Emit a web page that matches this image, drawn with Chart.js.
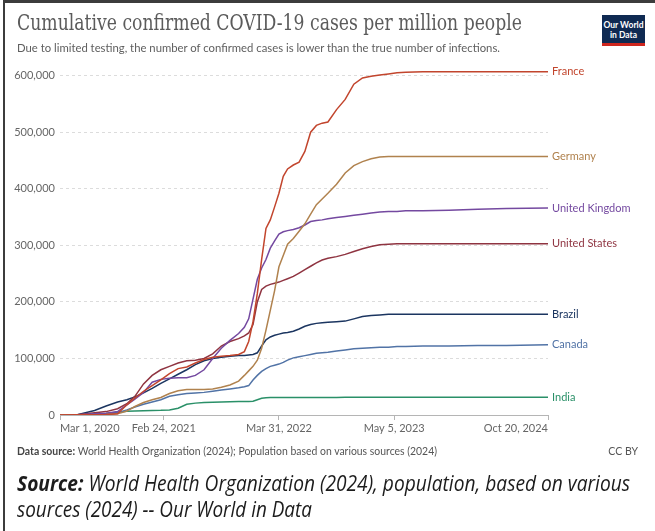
<!DOCTYPE html>
<html>
<head>
<meta charset="utf-8">
<title>Cumulative confirmed COVID-19 cases per million people</title>
<script src="https://cdn.jsdelivr.net/npm/chart.js@4.4.1/dist/chart.umd.min.js"></script>
<style>
  html, body { margin: 0; padding: 0; background: #fff; }
  body { width: 655px; height: 531px; position: relative; overflow: hidden; font-family: Lato, sans-serif; }
  #frame { position: absolute; left: 3px; top: 0; width: 660px; height: 540px; border-left: 2px solid #3c3c3c; border-top: 3px solid #3c3c3c; box-sizing: border-box; pointer-events: none; }
  #chart { position: absolute; left: 0; top: 0; }
  .fit { position: absolute; white-space: nowrap; transform-origin: 0 0; }
  #title { left: 17px; top: 9px; font-family: 'DejaVu Serif Condensed', 'DejaVu Serif', serif; font-size: 23px; color: #5b5b5b; }
  #subtitle { left: 17px; top: 40px; font-size: 12px; color: #5e5e5e; }
  #logo { position: absolute; left: 602px; top: 15px; width: 43px; background: #0f2a52; border-bottom: 3px solid #ce261e; color: #fff; font-size: 8.5px; font-weight: bold; line-height: 10px; text-align: center; padding-top: 5px; height: 23px; }
  #datasource { left: 17px; top: 445px; font-size: 10.5px; color: #555; }
  #datasource b { font-weight: bold; color: #444; }
  #ccby { position: absolute; right: 17px; top: 445px; font-size: 10.5px; color: #555; }
  .src { font-family: 'Open Sans', sans-serif; font-style: italic; font-size: 22px; color: #1c1c1c; }
  #src1 { left: 17px; top: 467px; }
  #src2 { left: 17px; top: 493px; }
</style>
</head>
<body>
<canvas id="chart" width="655" height="531"></canvas>
<div id="title" class="fit" data-w="505">Cumulative confirmed COVID-19 cases per million people</div>
<div id="subtitle" class="fit" data-w="483">Due to limited testing, the number of confirmed cases is lower than the true number of infections.</div>
<div id="logo">Our World<br>in Data</div>
<div id="datasource" class="fit" data-w="420"><b>Data source:</b> World Health Organization (2024); Population based on various sources (2024)</div>
<div id="ccby">CC BY</div>
<div id="src1" class="fit src" data-w="613"><b>Source:</b> World Health Organization (2024), population, based on various</div>
<div id="src2" class="fit src" data-w="295">sources (2024) -- Our World in Data</div>
<div id="frame"></div>
<script>
// days since Mar 1, 2020
const days = [0, 60, 120, 160, 200, 232, 260, 290, 320, 350, 380, 410, 440, 470, 500, 530, 560, 590, 620, 640,
  655, 670, 685, 700, 715, 730, 745, 760, 775, 790, 810, 830, 850, 870, 890, 910, 930, 960, 990, 1020,
  1050, 1080, 1110, 1140, 1170, 1200, 1260, 1350, 1450, 1550, 1694];

const countries = ['France', 'Germany', 'United Kingdom', 'United States', 'Brazil', 'Canada', 'India'];
const colors = ['#c2452d', '#b0824e', '#7449a0', '#8f3441', '#1b3560', '#5173a6', '#2a9068'];

const france = [0, 300, 500, 1000, 2000, 18000, 30000, 42000, 52000, 62000, 73000, 82000, 85000, 92000, 98000, 102000, 104000, 105000, 107000, 112000,
  130000, 165000, 215000, 275000, 330000, 345000, 368000, 392000, 422000, 435000, 442000, 447000, 466000, 500000, 512000, 516000, 518000, 540000, 558000, 585000,
  596000, 599000, 601000, 603000, 605000, 606000, 607000, 607000, 607000, 607000, 607000];
const germany = [0, 200, 500, 800, 2000, 7000, 15000, 22000, 27000, 31000, 38000, 43000, 45000, 45000, 45000, 46000, 49000, 53000, 60000, 70000,
  78000, 86000, 97000, 118000, 150000, 185000, 220000, 262000, 282000, 302000, 312000, 325000, 338000, 355000, 372000, 382000, 392000, 408000, 428000, 441000,
  448000, 453000, 456000, 457000, 457000, 457000, 457000, 457000, 457000, 457000, 457000];
const uk = [0, 500, 2000, 3000, 6000, 18000, 28000, 40000, 58000, 63000, 65000, 66000, 66000, 70000, 80000, 100000, 118000, 132000, 144000, 155000,
  170000, 205000, 240000, 260000, 275000, 295000, 308000, 320000, 324000, 326000, 328000, 331000, 336000, 342000, 344000, 345000, 347000, 349000, 351000, 353000,
  355000, 357000, 359000, 360000, 360000, 361000, 361000, 362000, 364000, 365000, 366000];
const us = [0, 500, 4000, 6000, 11000, 20000, 33000, 55000, 70000, 80000, 86000, 92000, 96000, 97000, 100000, 108000, 122000, 130000, 135000, 140000,
  145000, 160000, 200000, 222000, 228000, 231000, 233000, 235000, 238000, 241000, 245000, 251000, 257000, 263000, 269000, 274000, 277000, 280000, 284000, 289000,
  294000, 298000, 301000, 302000, 303000, 303000, 303000, 303000, 303000, 303000, 303000];
const brazil = [0, 500, 8000, 16000, 23000, 27000, 32000, 39000, 47000, 56000, 64000, 72000, 80000, 89000, 96000, 100000, 102000, 104000, 105000, 105000,
  106000, 107000, 110000, 122000, 133000, 138000, 141000, 143000, 145000, 146000, 148000, 152000, 157000, 160000, 162000, 163000, 164000, 165000, 166000, 170000,
  174000, 176000, 177000, 178000, 178000, 178000, 178000, 178000, 178000, 178000, 178000];
const canada = [0, 500, 1000, 2000, 4000, 9000, 14000, 19000, 23000, 27000, 33000, 36000, 38000, 39000, 40000, 42000, 44000, 46000, 48000, 50000,
  52000, 62000, 70000, 77000, 82000, 86000, 88000, 90000, 93000, 97000, 101000, 103000, 105000, 107000, 109000, 110000, 111000, 113000, 115000, 117000,
  118000, 119000, 120000, 120000, 121000, 121000, 122000, 122000, 123000, 123000, 124000];
const india = [0, 0, 1000, 2500, 5000, 6500, 7000, 7500, 8000, 8300, 9000, 12000, 19000, 21000, 22000, 22500, 23000, 23500, 24000, 24000,
  24000, 24500, 27000, 29500, 30500, 30800, 31000, 31000, 31000, 31000, 31000, 31000, 31000, 31000, 31000, 31000, 31100, 31100, 31200, 31200,
  31300, 31300, 31300, 31400, 31400, 31400, 31400, 31500, 31500, 31500, 31500];

const series = [france, germany, uk, us, brazil, canada, india];

const yTicks = [0, 100000, 200000, 300000, 400000, 500000, 600000];
const xTickDays = [0, 360, 760, 1160, 1694];
const xTickLabels = ['Mar 1, 2020', 'Feb 24, 2021', 'Mar 31, 2022', 'May 5, 2023', 'Oct 20, 2024'];

// stretch html text to the widths of the reference
document.querySelectorAll('.fit').forEach(el => {
  const w = el.getBoundingClientRect().width;
  el.style.transform = 'scaleX(' + (el.dataset.w / w) + ')';
});

// country names at the end of each line
const endLabels = {
  id: 'endLabels',
  afterDatasetsDraw(chart) {
    const ctx = chart.ctx;
    ctx.save();
    ctx.font = '11px Lato';
    ctx.textBaseline = 'middle';
    chart.data.datasets.forEach((ds, i) => {
      const pts = chart.getDatasetMeta(i).data;
      const last = pts[pts.length - 1];
      ctx.fillStyle = ds.borderColor;
      ctx.fillText(ds.label, chart.chartArea.right + 4, last.y);
    });
    ctx.restore();
  }
};

new Chart(document.getElementById('chart'), {
  type: 'line',
  data: {
    datasets: countries.map((c, i) => ({
      label: c,
      data: days.map((d, j) => ({ x: d, y: series[i][j] })),
      borderColor: colors[i],
      borderWidth: 1.5,
      pointRadius: 0,
      tension: 0,
      fill: false
    }))
  },
  options: {
    responsive: false,
    animation: false,
    devicePixelRatio: 1,
    layout: { padding: { left: 0, right: 107, top: 70, bottom: 0 } },
    plugins: { legend: { display: false }, tooltip: { enabled: false } },
    scales: {
      x: {
        type: 'linear',
        min: 0,
        max: 1694,
        afterBuildTicks: axis => { axis.ticks = xTickDays.map(v => ({ value: v })); },
        afterFit: axis => { axis.height = 116; },
        grid: { drawOnChartArea: false, drawTicks: true, tickLength: 5, color: '#b5b5b5' },
        border: { display: true, color: '#b5b5b5' },
        ticks: {
          autoSkip: false,
          maxRotation: 0,
          align: 'inner',
          padding: 2,
          color: '#666',
          font: { family: 'Lato', size: 11 },
          callback: (v, i) => xTickLabels[i]
        }
      },
      y: {
        min: 0,
        max: 610000,
        afterBuildTicks: axis => { axis.ticks = yTicks.map(v => ({ value: v })); },
        afterFit: axis => { axis.width = 60; },
        grid: { color: '#dcdcdc', drawTicks: false },
        border: { display: false, dash: [3, 3] },
        ticks: {
          padding: 5,
          color: '#666',
          font: { family: 'Lato', size: 11 },
          callback: v => v.toLocaleString('en-US')
        }
      }
    }
  },
  plugins: [endLabels]
});
</script>
</body>
</html>
